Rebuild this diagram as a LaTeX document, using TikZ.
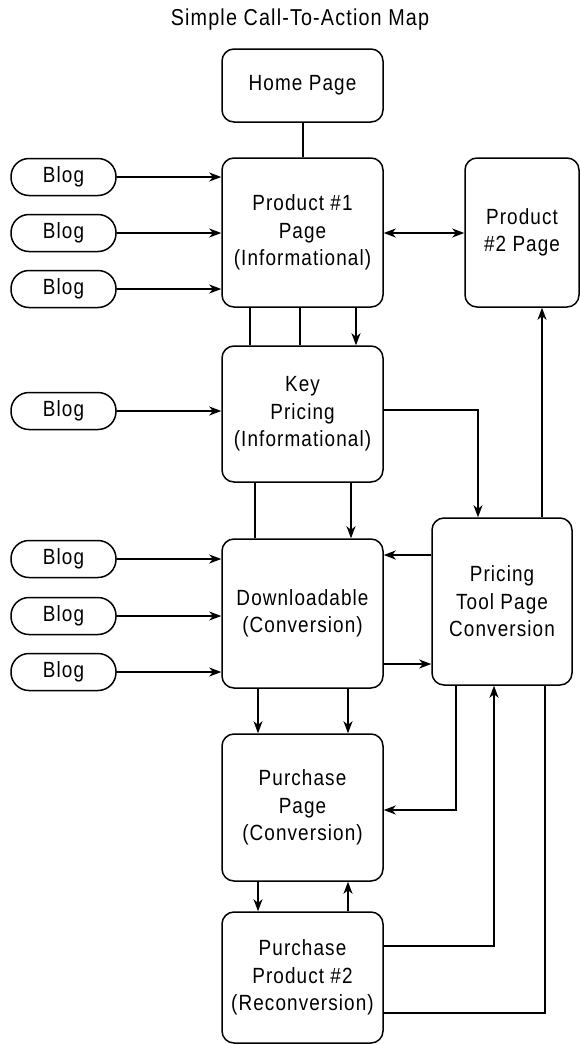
\documentclass[tikz,border=0pt]{standalone}
\usepackage{fontspec}
\setmainfont{Liberation Sans}[FakeStretch=0.86, LetterSpace=5]
\usetikzlibrary{arrows.meta}
\begin{document}
\begin{tikzpicture}[x=1pt,y=-1pt,
  every node/.style={font=\fontsize{22}{27.5}\selectfont, align=center, inner sep=0pt},
  box/.style={draw, line width=1.5pt, rounded corners=12pt},
  blog/.style={draw, line width=1.5pt, rounded corners=18pt, minimum width=105pt, minimum height=37pt},
  conn/.style={line width=1.5pt},
  arr/.style={conn, arrows={-Stealth[length=12pt,width=9pt,inset=3.5pt]}},
  darr/.style={conn, arrows={Stealth[length=12pt,width=9pt,inset=3.5pt]-Stealth[length=12pt,width=9pt,inset=3.5pt]}}
]
\useasboundingbox (0,0) rectangle (580,1045);

\node[font=\fontsize{23}{27.5}\selectfont] (title) at (300,20) {Simple Call-To-Action Map};

\node[box, minimum width=161pt, minimum height=73pt] (home) at (302.5,85.5) {Home Page};
\node[box, minimum width=161pt, minimum height=149pt] (p1) at (302.5,232.5) {Product \#1\\Page\\(Informational)};
\node[box, minimum width=114pt, minimum height=149pt] (p2) at (522,232.5) {Product\\\#2 Page};
\node[box, minimum width=161pt, minimum height=136pt] (key) at (302.5,414) {Key\\Pricing\\(Informational)};
\node[box, minimum width=161pt, minimum height=149pt] (dl) at (302.5,613.5) {Downloadable\\(Conversion)};
\node[box, minimum width=140pt, minimum height=167pt] (pt) at (502,601.5) {Pricing\\Tool Page\\Conversion};
\node[box, minimum width=161pt, minimum height=147pt] (pp) at (302.5,807.5) {Purchase\\Page\\(Conversion)};
\node[box, minimum width=161pt, minimum height=131pt] (rc) at (302.5,977.5) {Purchase\\Product \#2\\(Reconversion)};

\node[blog] (b1) at (63.5,177) {Blog};
\node[blog] (b2) at (63.5,233) {Blog};
\node[blog] (b3) at (63.5,289) {Blog};
\node[blog] (b4) at (63.5,411) {Blog};
\node[blog] (b5) at (63.5,559) {Blog};
\node[blog] (b6) at (63.5,616) {Blog};
\node[blog] (b7) at (63.5,672) {Blog};

% home to product 1
\draw[conn] ([xshift=0.5pt]home.south) -- ([xshift=0.5pt]p1.north);

% blogs to product 1
\draw[arr] (b1.east) -- (b1.east -| p1.west);
\draw[arr] (b2.east) -- (b2.east -| p1.west);
\draw[arr] (b3.east) -- (b3.east -| p1.west);

% product 1 <-> product 2
\draw[darr] ([yshift=-0.5pt]p1.east) -- ([yshift=-0.5pt]p1.east -| p2.west);

% product 1 to key
\draw[conn] ([xshift=-52.5pt]p1.south) -- ([xshift=-52.5pt]key.north);
\draw[conn] ([xshift=-2.5pt]p1.south) -- ([xshift=-2.5pt]key.north);
\draw[arr] ([xshift=53.5pt]p1.south) -- ([xshift=53.5pt]key.north);

% blog to key
\draw[arr] (b4.east) -- (b4.east -| key.west);

% key to pricing tool
\draw[arr] ([yshift=4pt]key.east) -| ([xshift=-24pt]pt.north);

% pricing tool to product 2
\draw[arr] ([xshift=40pt]pt.north) -- ([xshift=40pt]pt.north |- p2.south);

% key to downloadable
\draw[conn] ([xshift=-47.5pt]key.south) -- ([xshift=-47.5pt]dl.north);
\draw[arr] ([xshift=48.5pt]key.south) -- ([xshift=48.5pt]dl.north);

% blogs to downloadable
\draw[arr] (b5.east) -- (b5.east -| dl.west);
\draw[arr] (b6.east) -- (b6.east -| dl.west);
\draw[arr] (b7.east) -- (b7.east -| dl.west);

% pricing tool <-> downloadable
\draw[arr] ([yshift=46.5pt]pt.west) -- ([yshift=46.5pt]pt.west -| dl.east);
\draw[arr] ([yshift=-50.5pt]dl.east) -- ([yshift=-50.5pt]dl.east -| pt.west);

% downloadable to purchase page
\draw[arr] ([xshift=-44.5pt]dl.south) -- ([xshift=-44.5pt]pp.north);
\draw[arr] ([xshift=45.5pt]dl.south) -- ([xshift=45.5pt]pp.north);

% pricing tool to purchase page
\draw[arr] ([xshift=-46pt]pt.south) |- ([yshift=-2.5pt]pp.east);

% purchase page <-> reconversion
\draw[arr] ([xshift=-44.5pt]pp.south) -- ([xshift=-44.5pt]rc.north);
\draw[arr] ([xshift=45.5pt]rc.north) -- ([xshift=45.5pt]pp.south);

% reconversion to pricing tool
\draw[arr] ([yshift=31.5pt]rc.east) -| ([xshift=-8pt]pt.south);
\draw[conn] ([xshift=43pt]pt.south) |- ([yshift=-35.5pt]rc.east);
\end{tikzpicture}
\end{document}
